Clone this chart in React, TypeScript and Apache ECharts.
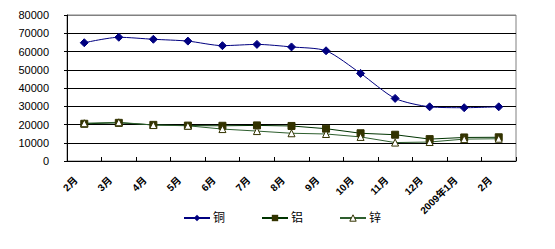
import React, { useEffect, useRef } from "react";
import * as echarts from "echarts";

const categories = ["2月", "3月", "4月", "5月", "6月", "7月", "8月", "9月", "10月", "11月", "12月", "2009年1月", "2月"];
const copper = [64800, 67800, 66700, 65700, 63200, 63900, 62500, 60400, 48000, 34300, 29700, 29200, 29700];
const aluminum = [20400, 20900, 19800, 19400, 19300, 19500, 19200, 17700, 15200, 14400, 12000, 12900, 13000];
const zinc = [20700, 21200, 19700, 19300, 17500, 16400, 15200, 14800, 13200, 10100, 10400, 12000, 12200];
const seriesNames = ["铜", "铝", "锌"];
const yTicks = { min: 0, max: 80000, step: 10000 };

const FONT = "'Liberation Sans', 'Noto Sans CJK SC', sans-serif";

export default function App() {
  const ref = useRef<HTMLDivElement>(null);
  useEffect(() => {
    if (!ref.current) return;
    const chart = echarts.init(ref.current, null, { renderer: "svg" });
    const splitColors = ["#000000", "#000000", "#000000", "#000000", "#000000", "#000000", "#000000", "#000000", "#808080"];
    chart.setOption({
      animation: false,
      backgroundColor: "#ffffff",
      textStyle: { fontFamily: FONT },
      grid: {
        left: 67,
        right: 39,
        top: 15,
        bottom: 88,
        show: true,
        borderColor: "#808080",
        borderWidth: 1,
        backgroundColor: "transparent",
      },
      legend: {
        bottom: 20,
        left: 178,
        itemWidth: 26,
        itemHeight: 8,
        itemGap: 36,
        textStyle: { fontSize: 12, color: "#000", fontFamily: FONT, padding: [0, 0, 0, -2] },
        data: [
          { name: seriesNames[0] },
          { name: seriesNames[1] },
          { name: seriesNames[2], itemStyle: { color: "#ffffff", borderColor: "#333300", borderWidth: 1 } },
        ],
      },
      xAxis: {
        type: "category",
        data: categories,
        boundaryGap: true,
        axisLine: { show: true, lineStyle: { color: "#000", width: 1 } },
        axisTick: { show: true, inside: true, length: 4, interval: 0, lineStyle: { color: "#000" } },
        axisLabel: {
          interval: 0,
          rotate: 45,
          fontSize: 10,
          fontWeight: "bold",
          color: "#000",
          margin: 9,
          padding: [0, 12, 0, 0],
          fontFamily: FONT,
        },
        splitLine: { show: false },
      },
      yAxis: {
        type: "value",
        min: yTicks.min,
        max: yTicks.max,
        interval: yTicks.step,
        axisLine: { show: true, lineStyle: { color: "#000", width: 1 } },
        axisTick: { show: true, length: 3, lineStyle: { color: "#000" } },
        axisLabel: { fontSize: 11, color: "#000", margin: 18, fontFamily: FONT, formatter: (v: number) => String(v) },
        splitLine: { show: true, lineStyle: { color: splitColors, width: 1 } },
      },
      series: [
        {
          name: seriesNames[0],
          type: "line",
          data: copper,
          smooth: 0.25,
          symbol: "diamond",
          symbolSize: 8,
          lineStyle: { color: "#000080", width: 1 },
          itemStyle: { color: "#000080", borderColor: "#000080" },
        },
        {
          name: seriesNames[1],
          type: "line",
          data: aluminum,
          symbol: "rect",
          symbolSize: 7,
          lineStyle: { color: "#003300", width: 1 },
          itemStyle: { color: "#333300", borderColor: "#333300" },
        },
        {
          name: seriesNames[2],
          type: "line",
          data: zinc,
          symbol: "triangle",
          symbolSize: 7,
          lineStyle: { color: "#2e5e2e", width: 1 },
          itemStyle: { color: "#ffffff", borderColor: "#333300", borderWidth: 1 },
        },
      ],
    });
    return () => chart.dispose();
  }, []);
  return <div ref={ref} style={{ position: "fixed", left: 0, top: 0, width: 555, height: 249 }} />;
}
